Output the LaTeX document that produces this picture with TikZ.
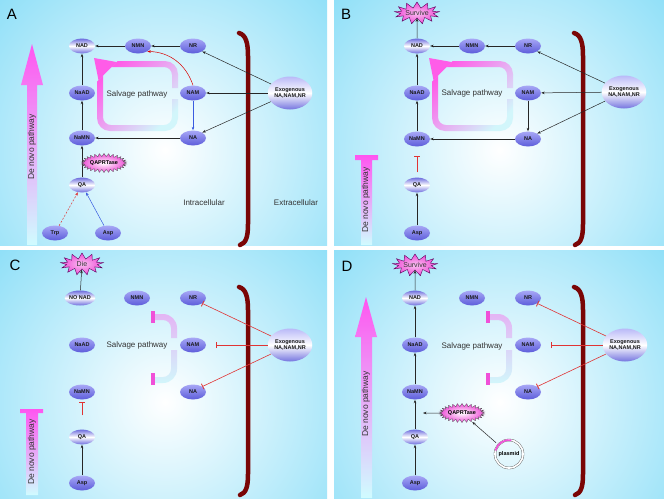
\documentclass[tikz,border=0pt]{standalone}
\usepackage{fontspec}
\setmainfont{Liberation Sans}
\usetikzlibrary{arrows.meta,shapes.geometric,shapes.symbols}

\definecolor{bgcyan}{HTML}{55CFF4}
\definecolor{mblue}{HTML}{5C5CDA}
\definecolor{mlav}{HTML}{A8A8F6}
\definecolor{loopPink}{HTML}{FF5CE8}
\definecolor{loopCyan}{HTML}{D2F6FB}
\definecolor{bracketTop}{HTML}{E4B4F4}
\definecolor{tickPink}{HTML}{F050D8}
\definecolor{wallRed}{HTML}{7A0606}
\definecolor{inhRed}{HTML}{E03434}
\definecolor{starPink}{HTML}{EE4CD6}
\definecolor{deNovoPink}{HTML}{FF55F0}
\definecolor{deNovoCyan}{HTML}{D0FCFF}
\definecolor{linkBlue}{HTML}{3A5CE0}

\newcommand{\nodefont}{\fontsize{5.5}{6}\selectfont\bfseries}

% one panel: clip box x0 y0 x1 y1, white spot at cx cy
\newcommand{\panelbg}[6]{%
  \begin{scope}
    \clip (#1,#2) rectangle (#3,#4);
    \shade[inner color=white, outer color=bgcyan] (#5,#6) circle (345pt);
  \end{scope}}

\tikzset{
  metab/.style={ellipse, minimum width=26pt, minimum height=15pt, inner sep=0pt,
    top color=mlav, bottom color=mblue, font=\nodefont, text=black!90},
  metabw/.style={metab, top color=mblue!90, bottom color=mblue!90, middle color=white},
  exo/.style={metab, minimum width=42pt, minimum height=33pt, align=center,
    top color=mlav!80, bottom color=mblue!85, middle color=white},
  enzyme/.style={starburst, starburst points=30, starburst point height=3pt,
    random starburst=0, inner sep=0pt, minimum width=39pt, minimum height=19pt,
    inner color=white, outer color=starPink,
    draw=black!70, line width=0.3pt, font=\nodefont},
  fate/.style={starburst, starburst points=13, starburst point height=6pt,
    random starburst=0, inner sep=0pt, minimum width=43pt, minimum height=22pt,
    inner color=starPink!35, outer color=starPink,
    draw=violet!70!black, line width=0.4pt, font=\fontsize{7}{8}\selectfont, text=black!80},
  flow/.style={-{Stealth[length=3.5pt,width=2.6pt]}, line width=0.5pt, black!85},
  block/.style={-{Bar[width=6pt,line width=0.8pt]}, line width=0.6pt, inhRed},
  wall/.style={line width=4.5pt, wallRed, line cap=round},
  panellabel/.style={font=\fontsize{15}{15}\selectfont},
  note/.style={font=\fontsize{8}{9}\selectfont, text=black!80},
  pathlabel/.style={font=\fontsize{8.5}{9}\selectfont, text=black!80, rotate=90},
}

\begin{document}
\begin{tikzpicture}[x=1pt,y=-1pt]
\useasboundingbox (0,0) rectangle (664,499);
\fill[white] (0,0) rectangle (664,499);
\panelbg{0}{0}{327}{245}{165}{150}
\panelbg{334}{0}{664}{245}{500}{150}
\panelbg{0}{250}{327}{498}{165}{402}
\panelbg{334}{250}{664}{498}{500}{402}

\node[panellabel] (labA) at (12,14) {A};
\node[panellabel] (labB) at (346,14) {B};
\node[panellabel] (labC) at (15,265) {C};
\node[panellabel] (labD) at (347,266) {D};

% ---------- A ----------
\shade[top color=deNovoPink, bottom color=deNovoCyan] (27,245) -- (27,85) -- (21,85) -- (32,44) -- (43,85) -- (37,85) -- (37,245) -- cycle;
\node[pathlabel] (aDeNovo) at (32,147) {De novo pathway};
\begin{scope}
  \clip (128.5,50) -- (190,50) -- (190,88) -- (160,88) -- (160,99) -- (190,99) -- (190,140) -- (90,140) -- (90,88.5) -- cycle;
  \shade[even odd rule, top color=loopPink, bottom color=loopCyan, shading angle=45, rounded corners=13pt] (97,61) rectangle (178,131) [rounded corners=8pt] (103,67) rectangle (172,125);
\end{scope}
\fill[loopPink] (94,58) -- (116.5,62) -- (98.5,80) -- cycle;
\draw[wall] (239,33) .. controls (246,35) and (248,43) .. (248,56) -- (248,224) .. controls (248,237) and (246,243) .. (240,245);

\node[metabw] (aNAD) at (82,46) {NAD};
\node[metab] (aNMN) at (138,46) {NMN};
\node[metab] (aNR) at (193,46) {NR};
\node[metab] (aNaAD) at (82,93) {NaAD};
\node[metab] (aNAM) at (193,93) {NAM};
\node[metab] (aNaMN) at (82,138) {NaMN};
\node[metab] (aNA) at (193,138) {NA};
\node[metabw] (aQA) at (82,185) {QA};
\node[metab] (aTrp) at (55,233) {Trp};
\node[metab] (aAsp) at (108,233) {Asp};
\node[exo] (aExo) at (290,93) {Exogenous\\NA,NAM,NR};
\node[note] (aSalv) at (137,94) {Salvage pathway};
\node[note] (aIntra) at (204,203) {Intracellular};
\node[note] (aExtra) at (296,203) {Extracellular};

\draw[flow] (aNR) -- (aNMN);
\draw[flow] (aNMN) -- (aNAD);
\draw[flow] (aNaAD) -- (aNAD);
\draw[flow] (aNaMN) -- (aNaAD);
\draw[flow] (aNA) -- (aNaMN);
\draw[flow, linkBlue] (aNAM) -- (aNA);
\draw[flow, red!85!black] (aNAM.north) to[bend right=35] (aNMN.south east);
\draw[flow, line width=0.8pt] (aQA) -- (aNaMN);
\draw[flow, inhRed, dash pattern=on 2pt off 1.5pt] (aTrp) -- (aQA);
\draw[flow, linkBlue] (aAsp) -- (aQA);
\draw[flow] (aExo) -- (aNR.south east);
\draw[flow] (aExo) -- (aNAM);
\draw[flow] (aExo) -- (aNA.north east);
\node[enzyme] (aQAPRT) at (104,163) {QAPRTase};

% ---------- B ----------
\begin{scope}[shift={(335,0)}]
  \shade[top color=deNovoPink, bottom color=deNovoCyan] (20,155) -- (43,155) -- (43,160) -- (37,160) -- (37,245) -- (26,245) -- (26,160) -- (20,160) -- cycle;
  \node[pathlabel] (bDeNovo) at (31,200) {De novo pathway};
  \begin{scope}
    \clip (128.5,50) -- (190,50) -- (190,88) -- (160,88) -- (160,99) -- (190,99) -- (190,140) -- (90,140) -- (90,88.5) -- cycle;
    \shade[even odd rule, top color=loopPink, bottom color=loopCyan, shading angle=45, rounded corners=13pt] (97,61) rectangle (178,131) [rounded corners=8pt] (103,67) rectangle (172,125);
  \end{scope}
  \fill[loopPink] (94,58) -- (116.5,62) -- (98.5,80) -- cycle;
  \draw[wall] (239,33) .. controls (246,35) and (248,43) .. (248,56) -- (248,224) .. controls (248,237) and (246,243) .. (240,245);

  \node[fate] (bSurvive) at (82,13) {Survive};
  \node[metabw] (bNAD) at (82,46) {NAD};
  \node[metab] (bNMN) at (137,46) {NMN};
  \node[metab] (bNR) at (193,46) {NR};
  \node[metab] (bNaAD) at (82,93) {NaAD};
  \node[metab] (bNAM) at (193,93) {NAM};
  \node[metab] (bNaMN) at (82,139) {NaMN};
  \node[metab] (bNA) at (193,139) {NA};
  \node[metabw] (bQA) at (82,185) {QA};
  \node[metab] (bAsp) at (82,233) {Asp};
  \node[exo] (bExo) at (289,92) {Exogenous\\NA,NAM,NR};
  \node[note] (bSalv) at (137,93) {Salvage pathway};

  \draw[flow] (bNAD) -- (bSurvive);
  \draw[flow] (bNR) -- (bNMN);
  \draw[flow] (bNMN) -- (bNAD);
  \draw[flow] (bNaAD) -- (bNAD);
  \draw[flow] (bNaMN) -- (bNaAD);
  \draw[flow] (bNA) -- (bNaMN);
  \draw[flow] (bNAM) -- (bNA);
  \draw[block, shorten >=9pt, shorten <=5pt] (bQA) -- (bNaMN);
  \draw[flow] (bAsp) -- (bQA);
  \draw[flow] (bExo) -- (bNR.south east);
  \draw[flow] (bExo) -- (bNAM);
  \draw[flow] (bExo) -- (bNA.north east);
\end{scope}

% ---------- C ----------
\begin{scope}[shift={(0,252)}]
  \shade[top color=deNovoPink, bottom color=deNovoCyan] (20,157) -- (43,157) -- (43,161) -- (38,161) -- (38,243) -- (26,243) -- (26,161) -- (20,161) -- cycle;
  \node[pathlabel] (cDeNovo) at (32,200) {De novo pathway};
  \begin{scope}
    \clip (151,50) -- (190,50) -- (190,86) -- (160,86) -- (160,98) -- (190,98) -- (190,140) -- (151,140) -- cycle;
    \shade[even odd rule, top color=bracketTop, bottom color=loopCyan, rounded corners=14pt] (120,62) rectangle (177,131) [rounded corners=8pt] (126,68) rectangle (171,125);
  \end{scope}
  \fill[tickPink] (151,59) rectangle (154.5,71);
  \fill[tickPink] (151,121) rectangle (154.5,133);
  \draw[wall] (239,35) .. controls (246,37) and (248,45) .. (248,58) -- (248,222) .. controls (248,235) and (246,241) .. (240,243);

  \node[fate] (cDie) at (82,12) {Die};
  \node[metabw] (cNAD) at (80,46) {NO NAD};
  \node[metab] (cNMN) at (137,46) {NMN};
  \node[metab] (cNR) at (193,46) {NR};
  \node[metab] (cNaAD) at (82,93) {NaAD};
  \node[metab] (cNAM) at (193,93) {NAM};
  \node[metab] (cNaMN) at (82,140) {NaMN};
  \node[metab] (cNA) at (193,140) {NA};
  \node[metabw] (cQA) at (82,185) {QA};
  \node[metab] (cAsp) at (82,231) {Asp};
  \node[exo] (cExo) at (290,93) {Exogenous\\NA,NAM,NR};
  \node[note] (cSalv) at (137,93) {Salvage pathway};

  \draw[flow] (cNAD) -- (cDie);
  \draw[block, shorten >=2.5pt, shorten <=14pt] (cQA) -- (cNaMN);
  \draw[flow] (cAsp) -- (cQA);
  \draw[block] (cExo) -- (cNR.south east);
  \draw[block, shorten >=10pt] (cExo) -- (cNAM);
  \draw[block] (cExo) -- (cNA.north east);
\end{scope}

% ---------- D ----------
\begin{scope}[shift={(335,252)}]
  \shade[top color=deNovoPink, bottom color=deNovoCyan] (26,246) -- (26,85) -- (20,85) -- (31,45) -- (42,85) -- (37,85) -- (37,246) -- cycle;
  \node[pathlabel] (dDeNovo) at (31,152) {De novo pathway};
  \begin{scope}
    \clip (151,50) -- (190,50) -- (190,86) -- (160,86) -- (160,98) -- (190,98) -- (190,140) -- (151,140) -- cycle;
    \shade[even odd rule, top color=bracketTop, bottom color=loopCyan, rounded corners=14pt] (120,62) rectangle (177,131) [rounded corners=8pt] (126,68) rectangle (171,125);
  \end{scope}
  \fill[tickPink] (151,59) rectangle (154.5,71);
  \fill[tickPink] (151,121) rectangle (154.5,133);
  \draw[wall] (239,35) .. controls (246,37) and (248,45) .. (248,58) -- (248,222) .. controls (248,235) and (246,241) .. (240,243);

  \node[fate] (dSurvive) at (80,13) {Survive};
  \node[metabw] (dNAD) at (80,46) {NAD};
  \node[metab] (dNMN) at (137,46) {NMN};
  \node[metab] (dNR) at (193,46) {NR};
  \node[metab] (dNaAD) at (80,93) {NaAD};
  \node[metab] (dNAM) at (193,93) {NAM};
  \node[metab] (dNaMN) at (80,140) {NaMN};
  \node[metab] (dNA) at (193,140) {NA};
  \node[metabw] (dQA) at (80,185) {QA};
  \node[metab] (dAsp) at (80,231) {Asp};
  \node[exo] (dExo) at (290,93) {Exogenous\\NA,NAM,NR};
  \node[note] (dSalv) at (137,94) {Salvage pathway};
  \node[enzyme] (dQAPRT) at (127,161) {QAPRTase};
  \node[circle, minimum size=28pt, inner sep=0pt, draw=black!70, line width=0.35pt,
        double=white, double distance=1.7pt, font=\nodefont] (dPlasmid) at (174,202) {plasmid};
  \draw[tickPink, line width=1.7pt] (dPlasmid.center) ++(80:14pt) arc[start angle=80, end angle=165, radius=14pt];
  \coordinate (dHit) at (88,161);

  \draw[flow] (dNAD) -- (dSurvive);
  \draw[flow] (dNaAD) -- (dNAD);
  \draw[flow] (dNaMN) -- (dNaAD);
  \draw[flow, line width=0.7pt] (dQA) -- (dNaMN);
  \draw[flow] (dAsp) -- (dQA);
  \draw[flow] (dQAPRT) -- (dHit);
  \draw[flow, shorten <=3pt, shorten >=1pt] (dPlasmid) -- (dQAPRT);
  \draw[block] (dExo) -- (dNR.south east);
  \draw[block, shorten >=10pt] (dExo) -- (dNAM);
  \draw[block] (dExo) -- (dNA.north east);
\end{scope}
\end{tikzpicture}
\end{document}
